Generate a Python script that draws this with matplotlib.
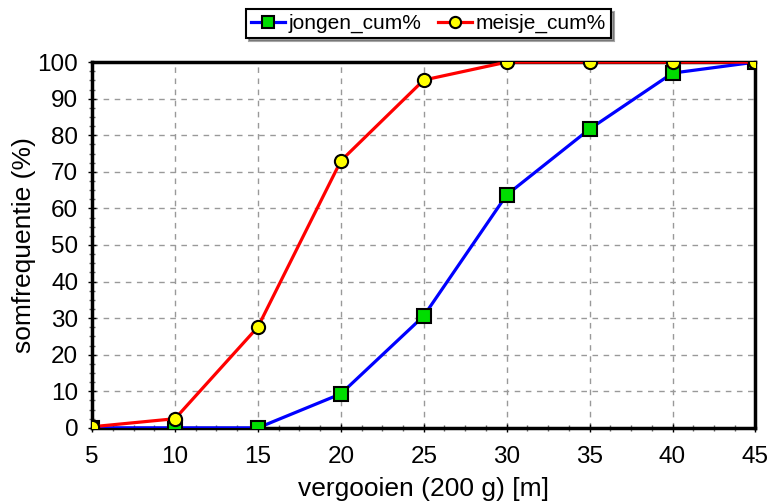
import matplotlib
matplotlib.use('Agg')
import matplotlib.pyplot as plt
from matplotlib.ticker import MultipleLocator

plt.rcParams['font.family'] = ['Liberation Sans', 'DejaVu Sans']

# data
distance = [5, 10, 15, 20, 25, 30, 35, 40, 45]
jongen_cum = [0, 0, 0, 9.3, 30.6, 63.7, 81.7, 97.0, 100]
meisje_cum = [0.3, 2.5, 27.6, 73.0, 95.1, 100, 100, 100, 100]

fig = plt.figure(figsize=(7.74, 5.01), dpi=100)
ax = fig.add_axes([0.119, 0.146, 0.857, 0.730])

ax.plot(distance, jongen_cum, color='#0000ff', lw=2.3, marker='s', ms=9.5,
        mfc='#00dd00', mec='black', mew=1.5, label='jongen_cum%', zorder=3)
ax.plot(distance, meisje_cum, color='#ff0000', lw=2.3, marker='o', ms=9.5,
        mfc='#ffff00', mec='black', mew=1.5, label='meisje_cum%', zorder=4)

ax.set_xlim(5, 45)
ax.set_ylim(0, 100)
ax.xaxis.set_major_locator(MultipleLocator(5))
ax.xaxis.set_minor_locator(MultipleLocator(1.25))
ax.yaxis.set_major_locator(MultipleLocator(10))
ax.yaxis.set_minor_locator(MultipleLocator(2.5))

ax.grid(True, which='major', linestyle=(0, (4, 4)), color='#999999', lw=1)
ax.tick_params(which='major', direction='inout', length=6, width=1, labelsize=17.5)
ax.tick_params(axis='x', which='major', pad=10)
ax.tick_params(axis='y', which='major', pad=7)
ax.tick_params(which='minor', direction='inout', length=4, width=1, color='#666666')
for s in ax.spines.values():
    s.set_linewidth(2.5)

ax.set_xlabel('vergooien (200 g) [m]', fontsize=19)
ax.set_ylabel('somfrequentie (%)', fontsize=19)
ax.xaxis.set_label_coords(0.5, -0.135)
ax.yaxis.set_label_coords(-0.085, 0.5)

leg = fig.legend(loc='upper center', bbox_to_anchor=(0.554, 0.995), ncol=2,
                 fontsize=15, frameon=True, fancybox=False, shadow=True,
                 handlelength=1.6, handletextpad=0.2, columnspacing=0.8,
                 borderpad=0.25, borderaxespad=0.3, markerscale=0.85)
leg.get_frame().set_edgecolor('black')
leg.get_frame().set_linewidth(1.5)

fig.savefig('out.png', dpi=100)
